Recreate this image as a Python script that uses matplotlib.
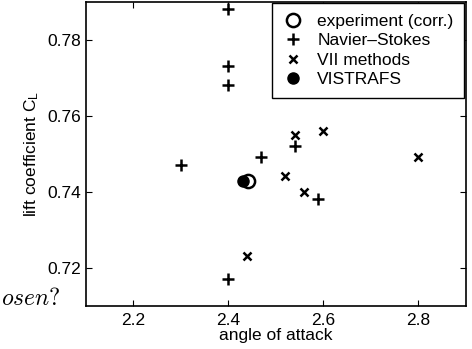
import matplotlib
matplotlib.use("Agg")
import matplotlib.pyplot as plt

plt.rcParams['font.family'] = ['Liberation Sans', 'DejaVu Sans']
plt.rcParams['mathtext.fontset'] = 'custom'
plt.rcParams['mathtext.rm'] = 'Liberation Sans'
plt.rcParams['mathtext.it'] = 'Liberation Sans:italic'

# ---------------- data
exp_x = [2.442]
exp_y = [0.7427]

ns_x = [2.40, 2.40, 2.40, 2.30, 2.47, 2.54, 2.59, 2.40]
ns_y = [0.788, 0.773, 0.768, 0.747, 0.749, 0.752, 0.738, 0.717]

vii_x = [2.54, 2.60, 2.80, 2.52, 2.56, 2.44]
vii_y = [0.755, 0.756, 0.749, 0.744, 0.740, 0.723]

vis_x = [2.432]
vis_y = [0.7427]

xticks = [2.2, 2.4, 2.6, 2.8]
yticks = [0.72, 0.74, 0.76, 0.78]

# ---------------- figure
fig = plt.figure(figsize=(4.72, 3.49), dpi=100)
ax = fig.add_axes([0.1816, 0.124, 0.805, 0.8717])

ax.plot(exp_x, exp_y, 'o', mfc='white', mec='k', ms=9.5, mew=1.8,
        label='experiment (corr.)', zorder=3)
ax.plot(ns_x, ns_y, '+', color='k', ms=9, mew=1.8, label='Navier–Stokes')
ax.plot(vii_x, vii_y, 'x', color='k', ms=6, mew=1.8, label='VII methods')
ax.plot(vis_x, vis_y, 'o', color='k', ms=8, label='VISTRAFS', zorder=4)

ax.set_xlim(2.1, 2.9)
ax.set_ylim(0.71, 0.79)
ax.set_xticks(xticks)
ax.set_yticks(yticks)
ax.set_xticklabels(['%.1f' % v for v in xticks])
ax.set_yticklabels(['%.2f' % v for v in yticks])

ax.tick_params(direction='in', length=4, width=0.8, top=True, right=True,
               labelsize=12.5, colors='k')
ax.tick_params(axis='x', pad=5)
ax.tick_params(axis='y', pad=3)
for s in ax.spines.values():
    s.set_linewidth(1.2)

ax.set_xlabel('angle of attack', fontsize=12.5, labelpad=0)
ax.set_ylabel(r'lift coefficient C$_\mathregular{L}$', fontsize=12.5, labelpad=5)

leg = ax.legend(loc='upper right', fontsize=12.5, fancybox=False,
                edgecolor='k', framealpha=1, labelspacing=0.25,
                handlelength=1.25, handletextpad=0.76, borderpad=0.6,
                borderaxespad=0.1, numpoints=1)
leg.get_frame().set_linewidth(1.0)

# caption fragment on the left margin (cut off in the source)
fig.text(1 / 472, 1 - 305 / 349, r'$osen?$', ha='left', va='baseline',
         fontsize=17, math_fontfamily='cm')

fig.savefig('out.png', dpi=100)
